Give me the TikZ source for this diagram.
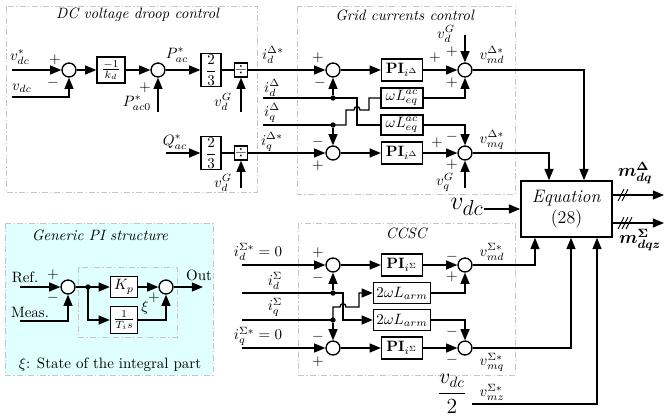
\documentclass[tikz,border=0pt]{standalone}
\usepackage{amsmath,amssymb,bm}
\usetikzlibrary{arrows.meta,calc}
\definecolor{picyan}{RGB}{224,255,255}
\begin{document}
\begin{tikzpicture}[x=0.6667pt,y=-0.6667pt,
  ln/.style={line width=0.9pt},
  arr/.style={line width=0.9pt,-{Triangle[length=7.5pt,width=6pt]}},
  sumj/.style={circle,draw,line width=0.9pt,fill=white,minimum size=9.3pt,inner sep=0pt},
  blk/.style={draw,line width=0.9pt,fill=white,inner sep=1pt},
  pib/.style={blk,minimum width=27.3pt,minimum height=14.7pt},
  wlb/.style={blk,inner ysep=0.3pt,minimum width=28pt,minimum height=13.3pt},
  alb/.style={blk,minimum width=38pt,minimum height=14pt},
  gb/.style={blk,minimum width=13.3pt,minimum height=18.7pt},
  dvb/.style={blk,inner sep=0.3pt,minimum width=8pt,minimum height=9.3pt},
  grp/.style={draw=gray!45,line width=0.5pt,dash pattern=on 4pt off 1.5pt on 0.8pt off 1.5pt},
  lbl/.style={inner sep=0pt},
  dotn/.style={circle,fill,inner sep=0pt,minimum size=3.6pt},
  sl/.style={line width=0.6pt}
]
\useasboundingbox (0,0) rectangle (665,417);
% ---------- group frames ----------
\draw[grp] (6,6) rectangle (257,192);
\draw[grp] (297,6) rectangle (515,194);
\draw[grp] (298,223) rectangle (515,375);
\draw[grp,fill=picyan] (5,223) rectangle (213,375);
\draw[grp] (78,267) rectangle (177,337);
\node[lbl] (tdc) at (138,15) {\textit{DC voltage droop control}};
\node[lbl] (tgc) at (405,15) {\textit{Grid currents control}};
\node[lbl] (tcc) at (407,233) {\textit{CCSC}};
\node[lbl] (tpi) at (100,235) {\textit{Generic PI structure}};
% ---------- DC voltage droop ----------
\coordinate (vdcs) at (12,70);
\coordinate (vdcin) at (12,97);
\node[sumj] (s1) at (69,70) {};
\node[blk,minimum width=18.7pt,minimum height=17.3pt] (kd) at (111,70) {$\frac{-1}{k_d}$};
\node[sumj] (s2) at (158,70) {};
\coordinate (pac0) at (158,112);
\node[gb] (g1) at (211,70) {$\dfrac{2}{3}$};
\node[dvb] (dv1) at (241,70) {$\div$};
\coordinate (vdg1) at (241,112);
\node[lbl] (lvdcs) at (20,57) {$v_{dc}^*$};
\node[lbl] (lvdc) at (22,88) {$v_{dc}$};
\node[lbl] (p1a) at (55,60) {$+$};
\node[lbl] (m1a) at (53,83) {$-$};
\node[lbl] (lpac) at (177,55) {$P_{ac}^*$};
\node[lbl] (lpac0) at (137,103) {$P_{ac0}^*$};
\node[lbl] (p2a) at (145,88) {$+$};
\node[lbl] (lvdg1) at (223,102) {$v_d^G$};
\draw[arr] (vdcs) -- (s1);
\draw[arr] (vdcin) -| (s1);
\draw[arr] (s1) -- (kd);
\draw[arr] (kd) -- (s2);
\draw[arr] (pac0) -- (s2);
\draw[arr] (s2) -- (g1);
\draw[ln] (g1) -- (dv1);
\draw[arr] (vdg1) -- (dv1);
% Q row
\coordinate (qin) at (166,153);
\node[gb] (g2) at (211,153) {$\dfrac{2}{3}$};
\node[dvb] (dv2) at (241,153) {$\div$};
\coordinate (vdg2) at (241,188);
\node[lbl] (lqac) at (175,142) {$Q_{ac}^*$};
\node[lbl] (lvdg2) at (223,183) {$v_d^G$};
\draw[arr] (qin) -- (g2);
\draw[ln] (g2) -- (dv2);
\draw[arr] (vdg2) -- (dv2);
% ---------- Grid currents control ----------
\node[sumj] (s3) at (333,70) {};
\node[pib] (pid) at (402,70) {$\mathbf{PI}_{i^\Delta}$};
\node[sumj] (s4) at (465,70) {};
\node[wlb] (wl1) at (402,98) {$\omega L_{eq}^{ac}$};
\node[wlb] (wl2) at (402,125) {$\omega L_{eq}^{ac}$};
\node[sumj] (s3b) at (333,153) {};
\node[pib] (piq) at (402,153) {$\mathbf{PI}_{i^\Delta}$};
\node[sumj] (s5) at (465,153) {};
\coordinate (idin) at (263,98);
\coordinate (iqin) at (263,125);
\node[dotn] (dd) at (333,98) {};
\node[dotn] (dq) at (333,125) {};
\coordinate (vdgt) at (465,35);
\coordinate (vqgb) at (465,188);
\node[lbl] (lidr) at (273,55) {$i_d^{\Delta*}$};
\node[lbl] (lid) at (272,88) {$i_d^{\Delta}$};
\node[lbl] (liq) at (272,113) {$i_q^{\Delta}$};
\node[lbl] (liqr) at (272,142) {$i_q^{\Delta*}$};
\node[lbl] (p3a) at (318,58) {$+$};
\node[lbl] (m3a) at (320,83) {$-$};
\node[lbl] (m3b) at (318,142) {$-$};
\node[lbl] (p3b) at (318,166) {$+$};
\node[lbl] (p4a) at (435,58) {$+$};
\node[lbl] (p4b) at (452,52) {$+$};
\node[lbl] (p4c) at (452,83) {$+$};
\node[lbl] (lvdgt) at (446,34) {$v_d^G$};
\node[lbl] (lvmd) at (492,55) {$v_{md}^{\Delta*}$};
\node[lbl] (m5a) at (452,137) {$-$};
\node[lbl] (p5a) at (437,143) {$+$};
\node[lbl] (p5b) at (452,165) {$+$};
\node[lbl] (lvqg) at (445,182) {$v_q^G$};
\node[lbl] (lvmq) at (492,140) {$v_{mq}^{\Delta*}$};
\draw[arr] (dv1) -- (s3);
\draw[arr] (dv2) -- (s3b);
\draw[ln] (idin) -- (dd.center);
\draw[arr] (dd) -- (s3);
\draw[ln] (dd.center) -- (357,98) -- (357,125) -- (wl2.west);
\draw[ln] (iqin) -- (dq.center);
\draw[arr] (dq) -- (s3b);
\draw[ln] (dq.center) -- (346,125) -- (346,110) -- (354,110) .. controls (354,105.5) and (360,105.5) .. (360,110) -- (369,110) -- (369,98) -- (wl1.west);
\draw[arr] (s3) -- (pid);
\draw[arr] (pid) -- (s4);
\draw[arr] (vdgt) -- (s4);
\draw[arr] (wl1) -| (s4);
\draw[arr] (s3b) -- (piq);
\draw[arr] (piq) -- (s5);
\draw[arr] (wl2) -| (s5);
\draw[arr] (vqgb) -- (s5);
% ---------- Equation block ----------
\node[blk,line width=1.1pt,minimum width=60.7pt,minimum height=37.3pt,align=center,font=\large] (eq) at (566.5,209) {\textit{Equation}\\(28)};
\node[lbl,font=\fontsize{19}{22}\selectfont] (vdcbig) at (467,207) {$v_{dc}$};
\draw[arr] (vdcbig.east |- eq.west) -- (eq.west);
\draw[arr] (s4) -| ($(eq.north)+(17.5,0)$);
\draw[arr] (s5) -| ($(eq.north)+(-17.5,0)$);
\coordinate (mo1) at (664,195);
\coordinate (mo2) at (664,223);
\draw[arr] (eq.east |- mo1) -- (mo1);
\draw[arr] (eq.east |- mo2) -- (mo2);
\draw[sl] (618,201) -- (624,189);
\draw[sl] (622,201) -- (628,189);
\draw[sl] (618,229) -- (624,217);
\draw[sl] (622,229) -- (628,217);
\draw[sl] (626,229) -- (632,217);
\node[lbl,font=\large] (lm1) at (635,173) {$\bm{m_{dq}^{\Delta}}$};
\node[lbl,font=\large] (lm2) at (640,240) {$\bm{m_{dqz}^{\Sigma}}$};
% ---------- CCSC ----------
\node[sumj] (s6) at (333,265) {};
\node[pib] (pis) at (402,265) {$\mathbf{PI}_{i^\Sigma}$};
\node[sumj] (s7) at (465,265) {};
\node[alb] (al1) at (402,293) {$2\omega L_{arm}$};
\node[alb] (al2) at (402,320) {$2\omega L_{arm}$};
\node[sumj] (s8) at (333,348) {};
\node[pib] (pis2) at (402,348) {$\mathbf{PI}_{i^\Sigma}$};
\node[sumj] (s9) at (465,348) {};
\coordinate (idsr) at (242,265);
\coordinate (idsi) at (242,293);
\coordinate (iqsi) at (242,320);
\coordinate (iqsr) at (242,348);
\node[dotn] (ds) at (333,293) {};
\node[dotn] (qs) at (333,320) {};
\node[lbl] (lidsr) at (258,252) {$i_d^{\Sigma*}=0$};
\node[lbl] (lids) at (275,281) {$i_d^{\Sigma}$};
\node[lbl] (liqs) at (275,307) {$i_q^{\Sigma}$};
\node[lbl] (liqsr) at (258,336) {$i_q^{\Sigma*}=0$};
\node[lbl] (p6a) at (318,253) {$+$};
\node[lbl] (m6a) at (318,278) {$-$};
\node[lbl] (m8a) at (318,337) {$-$};
\node[lbl] (p8a) at (318,362) {$+$};
\node[lbl] (m7a) at (452,257) {$-$};
\node[lbl] (p7a) at (452,277) {$+$};
\node[lbl] (m9a) at (452,332) {$-$};
\node[lbl] (m9b) at (452,360) {$-$};
\node[lbl] (lvmds) at (492,252) {$v_{md}^{\Sigma*}$};
\node[lbl] (lvmqs) at (492,362) {$v_{mq}^{\Sigma*}$};
\node[lbl,font=\Large] (vdc2) at (452,394) {$\dfrac{v_{dc}}{2}$};
\node[lbl] (lvmzs) at (492,392) {$v_{mz}^{\Sigma*}$};
\coordinate (vmz) at (472,404);
\draw[arr] (idsr) -- (s6);
\draw[arr] (s6) -- (pis);
\draw[arr] (pis) -- (s7);
\draw[arr] (al1) -| (s7);
\draw[ln] (idsi) -- (ds.center);
\draw[arr] (ds) -- (s6);
\draw[arr] (ds.center) -- (343,293) -- (343,320) -- (al2.west);
\draw[ln] (iqsi) -- (qs.center);
\draw[arr] (qs) -- (s8);
\draw[arr] (qs.center) -- (333,307) -- (340,307) .. controls (340,302.5) and (346,302.5) .. (346,307) -- (359,307) -- (359,293) -- (al1.west);
\draw[arr] (iqsr) -- (s8);
\draw[arr] (s8) -- (pis2);
\draw[arr] (pis2) -- (s9);
\draw[arr] (al2) -| (s9);
\draw[arr] (s7) -| ($(eq.south)+(-31.5,0)$);
\draw[arr] (s9) -| ($(eq.south)+(4.5,0)$);
\draw[arr] (vmz) -| ($(eq.south)+(30.5,0)$);
% ---------- Generic PI ----------
\coordinate (refin) at (20,287);
\coordinate (measin) at (20,321);
\node[sumj] (q1) at (68,287) {};
\node[dotn] (qd) at (88,287) {};
\node[blk,minimum width=18pt,minimum height=14pt] (kp) at (124,287) {$K_p$};
\node[blk,minimum width=18pt,minimum height=18pt] (ti) at (124,320) {$\frac{1}{T_i s}$};
\node[sumj] (q2) at (166,287) {};
\coordinate (pout) at (203,287);
\node[lbl] (lref) at (25,277) {Ref.};
\node[lbl] (lmeas) at (30,312) {Meas.};
\node[lbl] (pq1) at (53,275) {$+$};
\node[lbl] (mq1) at (53,298) {$-$};
\node[lbl] (lout) at (199,275) {Out};
\node[lbl] (lxi) at (145,308) {$\xi$};
\node[lbl] (pq2) at (154,298) {$+$};
\node[lbl] (lnote) at (110,365) {$\xi$: State of the integral part};
\draw[arr] (refin) -- (q1);
\draw[arr] (measin) -| (q1);
\draw[ln] (q1) -- (qd.center);
\draw[arr] (qd.center) -- (kp);
\draw[arr] (qd.center) |- (ti);
\draw[arr] (kp) -- (q2);
\draw[arr] (ti) -| (q2);
\draw[arr] (q2) -- (pout);
\end{tikzpicture}
\end{document}
